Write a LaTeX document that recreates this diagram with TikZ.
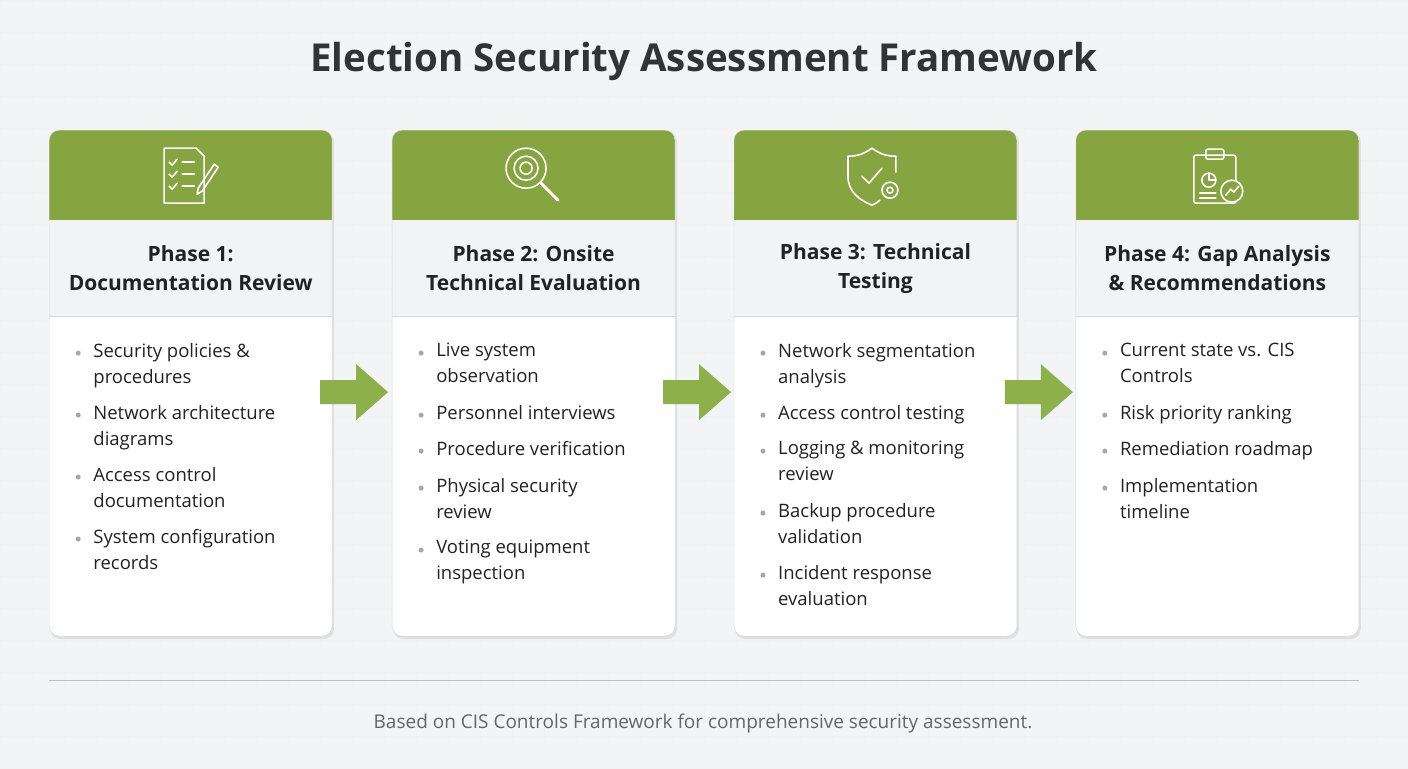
\documentclass[tikz,border=0pt]{standalone}
\usepackage{fontspec}
\setmainfont{Open Sans}
\usetikzlibrary{shadows}
\definecolor{bg}{HTML}{F3F4F6}
\definecolor{grn}{HTML}{86A540}
\definecolor{agrn}{HTML}{8DB04A}
\definecolor{hd}{HTML}{F1F3F5}
\definecolor{txt}{HTML}{222222}
\definecolor{bd}{HTML}{D5D8DC}
\begin{document}
\begin{tikzpicture}[x=1pt,y=-1pt,
  item/.style={anchor=north west,inner sep=0pt,font=\fontsize{18.5}{26}\selectfont,text=txt,align=left},
  dot/.style={circle,fill=gray!70,inner sep=0pt,minimum size=5pt},
  ptitle/.style={font=\fontsize{21}{29}\selectfont\bfseries,text=txt,align=center},
  icon/.style={white,line width=1.6pt,line cap=round,line join=round},
  arr/.style={fill=agrn,draw=none}]
\fill[bg] (0,0) rectangle (1408,768);
\foreach \i in {0,32,...,1408} \draw[gray!10,line width=0.5pt] (\i,0) -- (\i,768);
\foreach \i in {0,32,...,768} \draw[gray!10,line width=0.5pt] (0,\i) -- (1408,\i);
\node[font=\fontsize{38.5}{42}\selectfont\bfseries,text=black!80] (title) at (704,61) {Election Security Assessment Framework};
% cards
\foreach \x/\n in {49/a,392/b,734/c,1076/d}{
  \fill[black!12,rounded corners=10pt] (\x+1,132) rectangle (\x+285,639);
  \fill[white,rounded corners=10pt] (\x,130) rectangle (\x+283,636);
  \begin{scope}
   \clip[rounded corners=10pt] (\x,130) rectangle (\x+283,636);
   \fill[grn] (\x,130) rectangle (\x+283,220);
   \fill[hd] (\x,220) rectangle (\x+283,316);
   \draw[bd] (\x,316) -- (\x+283,316);
  \end{scope}
  \draw[bd,rounded corners=10pt] (\x,130) rectangle (\x+283,636);
  \node[inner sep=0pt] (card\n) at (\x+141.5,383) {};
}
\node[ptitle] (t1) at (190.5,268) {Phase 1:\\Documentation Review};
\node[ptitle] (t2) at (533.5,268) {Phase 2: Onsite\\Technical Evaluation};
\node[ptitle] (t3) at (875.5,268) {Phase 3: Technical\\Testing};
\node[ptitle] (t4) at (1217.5,268) {Phase 4: Gap Analysis\\\& Recommendations};
% arrows
\foreach \x/\n in {354/1,697/2,1039/3}{
 \fill[arr] (\x-34,380) -- (\x+2,380) -- (\x+2,364) -- (\x+34,392) -- (\x+2,420) -- (\x+2,404) -- (\x-34,404) -- cycle;
 \coordinate (ar\n) at (\x,392);
}
% items
\newcommand{\itm}[4]{\node[dot] at (#1+29,#2+13) {}; \node[item] (#4) at (#1+44,#2+3) {#3};}
\itm{49}{340}{Security policies \&\\procedures}{a1}
\itm{49}{402}{Network architecture\\diagrams}{a2}
\itm{49}{464}{Access control\\documentation}{a3}
\itm{49}{526}{System configuration\\records}{a4}
\itm{392}{340}{Live system\\observation}{b1}
\itm{392}{402}{Personnel interviews}{b2}
\itm{392}{438}{Procedure verification}{b3}
\itm{392}{475}{Physical security\\review}{b4}
\itm{392}{537}{Voting equipment\\inspection}{b5}
\itm{734}{340}{Network segmentation\\analysis}{c1}
\itm{734}{402}{Access control testing}{c2}
\itm{734}{438}{Logging \& monitoring\\review}{c3}
\itm{734}{500}{Backup procedure\\validation}{c4}
\itm{734}{562}{Incident response\\evaluation}{c5}
\itm{1076}{340}{Current state vs. CIS\\Controls}{d1}
\itm{1076}{402}{Risk priority ranking}{d2}
\itm{1076}{438}{Remediation roadmap}{d3}
\itm{1076}{475}{Implementation\\timeline}{d4}
% icons
\begin{scope}[icon]
 \draw (164,148) -- (196,148) -- (204,156) -- (204,203) -- (164,203) -- cycle;
 \foreach \y in {162,174,186}{\draw (169,\y) -- (172,\y+3) -- (177,\y-3); \draw (182,\y) -- (194,\y);}
 \draw (198,188) -- (214,164) -- (218,167) -- (202,191) -- (197,194) -- cycle;
 \draw (526,168) circle (20);
 \draw (526,168) circle (6);
 \draw (526,168) circle (12);
 \draw[line width=3pt] (541,183) -- (558,200);
 \draw (872,148) .. controls (862,155) and (856,156) .. (848,156) -- (848,176) .. controls (848,192) and (860,200) .. (872,205) .. controls (876,203) and (878,202) .. (880,200);
 \draw (872,148) .. controls (882,155) and (888,156) .. (896,156) -- (896,172);
 \draw (862,176) -- (869,183) -- (882,168);
 \draw (890,190) circle (8); \draw (890,190) circle (3);
 \draw[rounded corners=2pt] (1194,155) rectangle (1236,203);
 \draw[rounded corners=2pt] (1206,149) rectangle (1224,159);
 \draw (1209,180) circle (7); \draw (1209,173) -- (1209,180) -- (1216,180);
 \foreach \y in {193,198}\draw (1200,\y) -- (1216,\y);
 \draw[fill=grn] (1232,191) circle (11);
 \draw (1226,195) -- (1231,189) -- (1234,192) -- (1239,186);
\end{scope}
\draw[black!25,line width=1pt] (49,680) -- (1359,680);
\node[font=\fontsize{19}{22}\selectfont,text=black!60] (foot) at (703,724) {Based on CIS Controls Framework for comprehensive security assessment.};
\end{tikzpicture}
\end{document}
